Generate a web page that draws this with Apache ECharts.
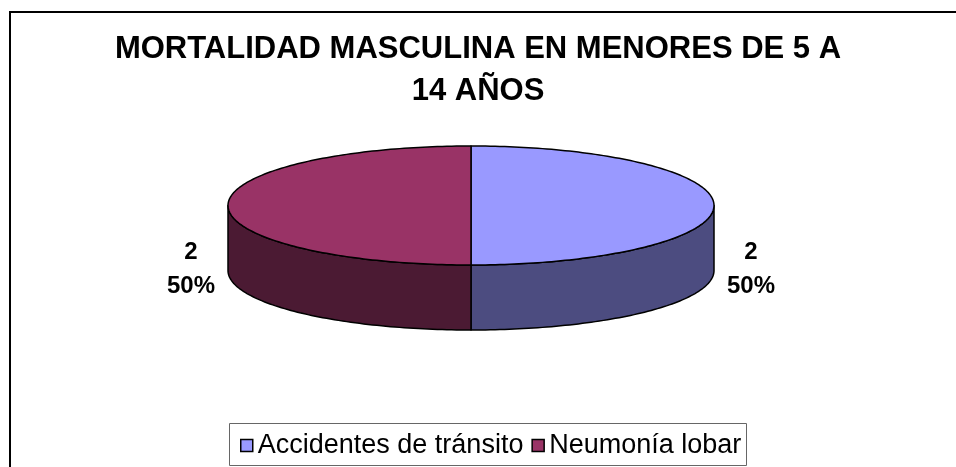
<!DOCTYPE html>
<html>
<head>
<meta charset="utf-8">
<script src="https://cdn.jsdelivr.net/npm/echarts@6/dist/echarts.min.js"></script>
<style>
html,body{margin:0;padding:0;background:#fff;}
#chart{width:956px;height:467px;}
</style>
</head>
<body>
<div id="chart"></div>
<script>
// ---- data ----
const titleText = 'MORTALIDAD MASCULINA EN MENORES DE 5 A\n14 AÑOS';
const categories = ['Accidentes de tránsito', 'Neumonía lobar'];
const values = [2, 2];
const topColors = ['#9999FF', '#993366'];
const sideColors = ['#4C4C80', '#4B1A33'];

// ---- geometry (layout) ----
const CX = 471, CY = 205.5, RX = 243, RY = 59.5, DEPTH = 65;
const FONT = '"Liberation Sans", Arial, Helvetica, sans-serif';

const total = values.reduce((a, b) => a + b, 0);
const starts = [];
(function () {
  let acc = 0;
  for (let i = 0; i < values.length; i++) { starts.push(acc); acc += values[i]; }
})();

function ang(v) { return -Math.PI / 2 + v / total * Math.PI * 2; }
function arcPts(a0, a1, dy) {
  const n = Math.max(2, Math.ceil(Math.abs(a1 - a0) / 0.02));
  const pts = [];
  for (let k = 0; k <= n; k++) {
    const a = a0 + (a1 - a0) * k / n;
    pts.push([CX + RX * Math.cos(a), CY + RY * Math.sin(a) + dy]);
  }
  return pts;
}

function makeRender(idx) {
  return function (params, api) {
    const v = api.value(0);
    const a0 = ang(starts[idx]);
    const a1 = ang(starts[idx] + v);
    const children = [];
    for (let k = -1; k <= 1; k++) {
      const lo = Math.max(a0, k * 2 * Math.PI);
      const hi = Math.min(a1, k * 2 * Math.PI + Math.PI);
      if (hi > lo) {
        const topArc = arcPts(lo, hi, 0);
        const botArc = arcPts(lo, hi, DEPTH).reverse();
        children.push({
          type: 'polygon', z2: 1,
          shape: { points: topArc.concat(botArc) },
          style: { fill: sideColors[idx], stroke: '#000', lineWidth: 1.5, lineJoin: 'round' }
        });
      }
    }
    children.push({
      type: 'polygon', z2: 2,
      shape: { points: [[CX, CY]].concat(arcPts(a0, a1, 0)) },
      style: { fill: topColors[idx], stroke: '#000', lineWidth: 1.5, lineJoin: 'round' }
    });
    const mid = (a0 + a1) / 2;
    const pct = Math.round(v / total * 100);
    children.push({
      type: 'text', z2: 3,
      style: {
        text: v + '\n' + pct + '%',
        x: CX + Math.cos(mid) * (RX + 37),
        y: CY + Math.sin(mid) * RY + 64,
        align: 'center', verticalAlign: 'middle',
        font: 'bold 24px ' + FONT, lineHeight: 34, fill: '#000'
      }
    });
    return { type: 'group', children: children };
  };
}

const chart = echarts.init(document.getElementById('chart'), null, { renderer: 'canvas' });
chart.setOption({
  animation: false,
  backgroundColor: '#fff',
  title: {
    text: titleText,
    left: 478, top: 28, textAlign: 'center', padding: 0,
    textStyle: { fontFamily: FONT, fontWeight: 'bold', fontSize: 31, lineHeight: 42, color: '#000' }
  },
  legend: {
    data: categories,
    left: 240, top: 432, padding: 0,
    icon: 'rect', itemWidth: 12, itemHeight: 12, itemGap: 8,
    itemStyle: { borderColor: '#000', borderWidth: 1.5 },
    textStyle: { fontFamily: FONT, fontSize: 27, color: '#000', padding: [0, 0, 0, 0] },
    selectedMode: false
  },
  graphic: [
    { type: 'rect', z: 0, shape: { x: 10, y: 12, width: 1000, height: 500 },
      style: { fill: 'none', stroke: '#000', lineWidth: 2 } },
    { type: 'rect', z: 0, shape: { x: 229.5, y: 423.5, width: 517, height: 42 },
      style: { fill: 'none', stroke: '#666', lineWidth: 1 } }
  ],
  series: categories.map((name, i) => ({
    type: 'custom',
    name: name,
    coordinateSystem: 'none',
    silent: true,
    itemStyle: { color: topColors[i] },
    data: [[values[i]]],
    renderItem: makeRender(i)
  }))
});
</script>
</body>
</html>
